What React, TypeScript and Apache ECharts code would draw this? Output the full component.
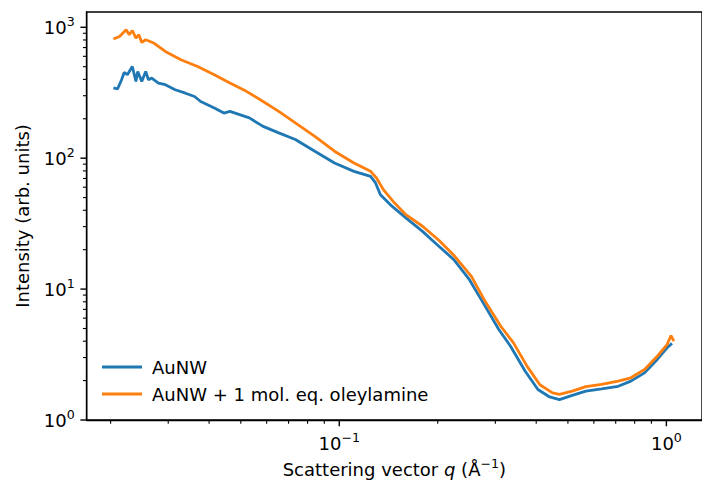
import React, { useEffect, useRef } from "react";
import * as echarts from "echarts";

// Scattering vector q (1/Å) and intensity (arb. units)
const seriesNames = ["AuNW", "AuNW + 1 mol. eq. oleylamine"];

const qAuNW = [
  0.0204, 0.021, 0.0216, 0.022, 0.0225, 0.0233, 0.0239, 0.0242, 0.0249, 0.0256,
  0.0261, 0.0267, 0.028, 0.0294, 0.0315, 0.0337, 0.0361, 0.0377, 0.0415, 0.0444,
  0.0463, 0.0496, 0.0531, 0.0585, 0.0653, 0.0734, 0.0842, 0.0967, 0.1109, 0.1247,
  0.1291, 0.1336, 0.1431, 0.1598, 0.1797, 0.1965, 0.224, 0.25, 0.2754, 0.3074,
  0.3339, 0.3702, 0.4049, 0.4397, 0.4711, 0.5153, 0.5674, 0.6334, 0.7122, 0.7787,
  0.8576, 0.938, 1.005, 1.04,
];
const iAuNW = [
  344, 338, 397, 452, 434, 502, 386, 460, 386, 460,
  397, 409, 375, 364, 333, 315, 296, 271, 242, 221,
  228, 215, 203, 175, 156, 139, 113, 91.9, 79.3, 72.6,
  64.7, 52.6, 44.2, 35.0, 27.6, 22.5, 16.8, 11.8, 7.85, 4.91,
  3.66, 2.36, 1.71, 1.5, 1.43, 1.54, 1.66, 1.73, 1.81, 1.98,
  2.29, 2.9, 3.56, 3.85,
];

const qOley = [
  0.0204, 0.0213, 0.0223, 0.0228, 0.0233, 0.0239, 0.0244, 0.0249, 0.0256, 0.0271,
  0.0294, 0.0328, 0.0369, 0.0415, 0.0463, 0.052, 0.0585, 0.0653, 0.0734, 0.0842,
  0.0967, 0.1109, 0.1247, 0.13, 0.1364, 0.1461, 0.1598, 0.1797, 0.202, 0.2255,
  0.2535, 0.2773, 0.3117, 0.3409, 0.3753, 0.4105, 0.4489, 0.4711, 0.5153, 0.5674,
  0.6334, 0.7122, 0.7787, 0.8576, 0.938, 1.005, 1.033, 1.054,
];
const iOley = [
  813, 851, 957, 876, 945, 827, 876, 766, 803, 758,
  654, 565, 502, 434, 375, 324, 271, 228, 186, 147,
  113, 91.9, 79.3, 70.6, 57.5, 46.8, 37.0, 30.2, 23.5, 17.8,
  12.5, 8.31, 5.2, 3.88, 2.57, 1.86, 1.61, 1.57, 1.66, 1.8,
  1.87, 1.98, 2.1, 2.43, 3.07, 3.77, 4.42, 4.0,
];

// tick exponents (log10)
const xMajorExp = [-1, 0];
const yMajorExp = [0, 1, 2, 3];
const minorMult = [2, 3, 4, 5, 6, 7, 8, 9];
const xMinorDecades = [-2, -1];
const yMinorDecades = [0, 1, 2];

const FONT = "DejaVu Sans";
const BLUE = "#1f77b4";
const ORANGE = "#ff7f0e";

const X_MIN = -1.7721;
const X_MAX = 0.1089;
const Y_MIN = 0;
const Y_MAX = 3.1167;

const MAJOR_LEN = 6.3;
const MINOR_LEN = 3.8;

function minors(decades: number[], lo: number, hi: number) {
  const out: number[] = [];
  decades.forEach((d) =>
    minorMult.forEach((m) => {
      const v = Math.log10(m * Math.pow(10, d));
      if (v > lo && v < hi) out.push(v);
    })
  );
  return out;
}

const supFmt = (v: number) => {
  const e = Math.round(v);
  const s = e < 0 ? "\u2212" + Math.abs(e) : String(e);
  return "{b|10}{sup|" + s + "}";
};

const labelRich = {
  b: { fontSize: 18, fontFamily: FONT, color: "#000", lineHeight: 24 },
  sup: { fontSize: 12.6, fontFamily: FONT, color: "#000", lineHeight: 14, verticalAlign: "top" },
};

const spine = { show: true, onZero: false, lineStyle: { color: "#000", width: 1.4 } };

export default function App() {
  const ref = useRef<HTMLDivElement>(null);
  useEffect(() => {
    if (!ref.current) return;
    const chart = echarts.init(ref.current, null, { renderer: "svg" });
    const toLog = (qs: number[], is: number[]) =>
      qs.map((q, k) => [Math.log10(q), Math.log10(is[k])]);

    chart.setOption({
      animation: false,
      backgroundColor: "#fff",
      grid: {
        left: 86.7,
        top: 12,
        width: 629,
        height: 408.5,
        show: true,
        borderColor: "#000",
        borderWidth: 1.4,
        backgroundColor: "transparent",
      },
      legend: {
        orient: "vertical",
        left: 97,
        top: 352,
        icon: "rect",
        itemWidth: 40,
        itemHeight: 3,
        itemGap: 7,
        textStyle: {
          fontSize: 18,
          fontFamily: FONT,
          color: "#000",
          lineHeight: 20,
          padding: [0, 0, 0, 5],
        },
        data: seriesNames,
      },
      xAxis: {
        type: "value",
        min: X_MIN,
        max: X_MAX,
        position: "bottom",
        name: "Scattering vector {it|q} (Å{sup|\u22121})",
        nameLocation: "middle",
        nameGap: 37,
        nameTextStyle: {
          fontSize: 18,
          fontFamily: FONT,
          color: "#000",
          lineHeight: 24,
          rich: {
            it: { fontSize: 18, fontFamily: FONT, fontStyle: "italic", color: "#000", lineHeight: 24 },
            sup: { fontSize: 12.6, fontFamily: FONT, color: "#000", lineHeight: 14, verticalAlign: "top" },
          },
        },
        axisLine: spine,
        splitLine: { show: false },
        axisTick: { show: false },
        axisLabel: {
          show: true,
          margin: 11,
          customValues: xMajorExp,
          formatter: supFmt,
          rich: labelRich,
        },
      },
      yAxis: {
        type: "value",
        min: Y_MIN,
        max: Y_MAX,
        position: "left",
        name: "Intensity (arb. units)",
        nameLocation: "middle",
        nameGap: 55,
        nameTextStyle: { fontSize: 18, fontFamily: FONT, color: "#000" },
        axisLine: spine,
        splitLine: { show: false },
        axisTick: { show: false },
        axisLabel: {
          show: true,
          margin: 12,
          customValues: yMajorExp,
          formatter: supFmt,
          rich: labelRich,
        },
      },
      series: [
        {
          name: seriesNames[0],
          type: "line",
          showSymbol: false,
          symbol: "none",
          color: BLUE,
          lineStyle: { color: BLUE, width: 2.8 },
          data: toLog(qAuNW, iAuNW),
          z: 3,
        },
        {
          name: seriesNames[1],
          type: "line",
          showSymbol: false,
          symbol: "none",
          color: ORANGE,
          lineStyle: { color: ORANGE, width: 2.8 },
          data: toLog(qOley, iOley),
          z: 4,
        },
      ],
    });

    // outward tick marks placed through the chart's own coordinate conversion
    const ticks: any[] = [];
    const addX = (v: number, len: number, w: number) => {
      const p = chart.convertToPixel({ gridIndex: 0 }, [v, Y_MIN]) as number[];
      ticks.push({
        type: "rect",
        silent: true,
        z: 100,
        shape: { x: p[0] - w / 2, y: p[1], width: w, height: len },
        style: { fill: "#000" },
      });
    };
    const addY = (v: number, len: number, w: number) => {
      const p = chart.convertToPixel({ gridIndex: 0 }, [X_MIN, v]) as number[];
      ticks.push({
        type: "rect",
        silent: true,
        z: 100,
        shape: { x: p[0] - len, y: p[1] - w / 2, width: len, height: w },
        style: { fill: "#000" },
      });
    };
    xMajorExp.forEach((v) => addX(v, MAJOR_LEN, 1.4));
    minors(xMinorDecades, X_MIN, X_MAX).forEach((v) => addX(v, MINOR_LEN, 1.1));
    yMajorExp.forEach((v) => addY(v, MAJOR_LEN, 1.4));
    minors(yMinorDecades, Y_MIN, Y_MAX).forEach((v) => addY(v, MINOR_LEN, 1.1));
    chart.setOption({ graphic: ticks });

    return () => chart.dispose();
  }, []);
  return <div ref={ref} style={{ width: 702, height: 486, position: "absolute", left: 0, top: 0 }} />;
}
